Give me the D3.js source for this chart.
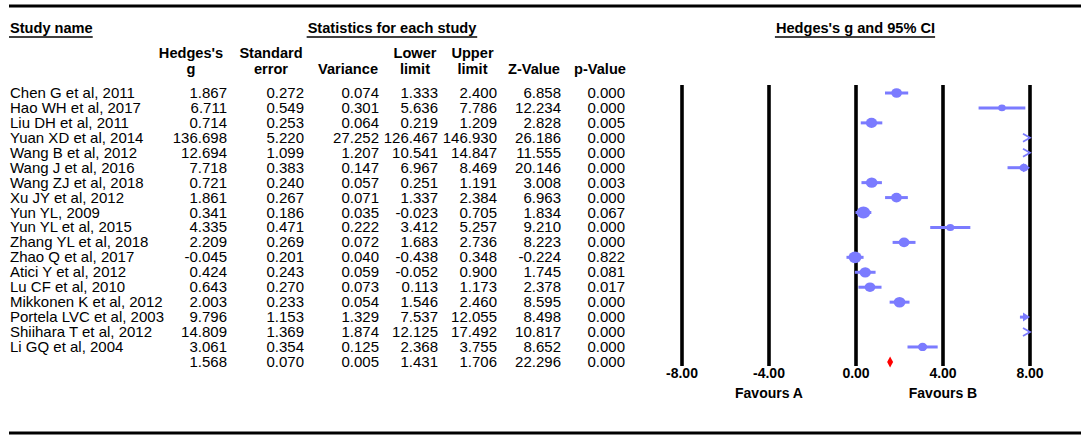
<!DOCTYPE html>
<html><head><meta charset="utf-8">
<script src="https://cdn.jsdelivr.net/npm/d3@7"></script>
<style>html,body{margin:0;padding:0;background:#fff;}svg{display:block;}</style>
</head><body>
<svg id="chart" width="1084" height="439"></svg>
<script>
const studies = ["Chen G et al, 2011","Hao WH et al, 2017","Liu DH et al, 2011","Yuan XD et al, 2014","Wang B et al, 2012","Wang J et al, 2016","Wang ZJ et al, 2018","Xu JY et al, 2012","Yun YL, 2009","Yun YL et al, 2015","Zhang YL et al, 2018","Zhao Q et al, 2017","Atici Y et al, 2012","Lu CF et al, 2010","Mikkonen K et al, 2012","Portela LVC et al, 2003","Shiihara T et al, 2012","Li GQ et al, 2004",""];
const hedgesG = [1.867,6.711,0.714,136.698,12.694,7.718,0.721,1.861,0.341,4.335,2.209,-0.045,0.424,0.643,2.003,9.796,14.809,3.061,1.568];
const stdErr  = [0.272,0.549,0.253,5.220,1.099,0.383,0.240,0.267,0.186,0.471,0.269,0.201,0.243,0.270,0.233,1.153,1.369,0.354,0.070];
const variance= [0.074,0.301,0.064,27.252,1.207,0.147,0.057,0.071,0.035,0.222,0.072,0.040,0.059,0.073,0.054,1.329,1.874,0.125,0.005];
const lower   = [1.333,5.636,0.219,126.467,10.541,6.967,0.251,1.337,-0.023,3.412,1.683,-0.438,-0.052,0.113,1.546,7.537,12.125,2.368,1.431];
const upper   = [2.400,7.786,1.209,146.930,14.847,8.469,1.191,2.384,0.705,5.257,2.736,0.348,0.900,1.173,2.460,12.055,17.492,3.755,1.706];
const zValue  = [6.858,12.234,2.828,26.186,11.555,20.146,3.008,6.963,1.834,9.210,8.223,-0.224,1.745,2.378,8.595,8.498,10.817,8.652,22.296];
const pValue  = [0.000,0.000,0.005,0.000,0.000,0.000,0.003,0.000,0.067,0.000,0.000,0.822,0.081,0.017,0.000,0.000,0.000,0.000,0.000];
const xTicks = [-8,-4,0,4,8];
const favourLabels = [{v:-4,t:"Favours A"},{v:4,t:"Favours B"}];

const svg = d3.select("#chart");
const FONT = "'Liberation Sans', Arial, sans-serif";
const BLUE = "#7b7bff";
const n = studies.length;
const y = d3.scalePoint().domain(d3.range(n)).range([93, 93 + 14.94*(n-1)]);
const x = d3.scaleLinear().domain([-8,8]).range([682,1030]);

// rules
svg.append("line").attr("x1",9).attr("x2",1081).attr("y1",6).attr("y2",6).attr("stroke","#000").attr("stroke-width",3);
svg.append("line").attr("x1",9).attr("x2",1081).attr("y1",433).attr("y2",433).attr("stroke","#000").attr("stroke-width",3);

// section headers
function header(txt, xx, anchor){
  const t = svg.append("text").attr("x",xx).attr("y",33).attr("text-anchor",anchor)
    .attr("font-family",FONT).attr("font-weight","bold").attr("font-size",14.6).text(txt);
  const b = t.node().getBBox();
  svg.append("line").attr("x1",b.x-1).attr("x2",b.x+b.width).attr("y1",37).attr("y2",37).attr("stroke","#000").attr("stroke-width",1.6);
}
header("Study name",10,"start");
header("Statistics for each study",392,"middle");
header("Hedges's g and 95% CI",855.5,"middle");

// column headers
const cols = [
  {c:191, r:227, l1:"Hedges's", l2:"g", data:hedgesG},
  {c:271, r:304, l1:"Standard", l2:"error", data:stdErr},
  {c:348, r:379, l1:"", l2:"Variance", data:variance},
  {c:415, r:438, l1:"Lower", l2:"limit", data:lower},
  {c:472.5, r:497, l1:"Upper", l2:"limit", data:upper},
  {c:534, r:561, l1:"", l2:"Z-Value", data:zValue},
  {c:600, r:625, l1:"", l2:"p-Value", data:pValue}
];
cols.forEach(col=>{
  [[col.l1,57.5],[col.l2,74]].forEach(([t,yy])=>{
    if(!t) return;
    svg.append("text").attr("x",col.c).attr("y",yy).attr("text-anchor","middle")
      .attr("font-family",FONT).attr("font-weight","bold").attr("font-size",14.6).text(t);
  });
  svg.append("g").selectAll("text").data(col.data).join("text")
    .attr("x",col.r).attr("y",(d,i)=>y(i)+5).attr("text-anchor","end")
    .attr("font-family",FONT).attr("font-size",15).text(d=>d3.format(".3f")(d).replace("−","-"));
});
svg.append("g").selectAll("text").data(studies).join("text")
  .attr("x",10).attr("y",(d,i)=>y(i)+5).attr("font-family",FONT).attr("font-size",15).text(d=>d);

// plot grid lines
svg.append("g").selectAll("line").data(xTicks).join("line")
  .attr("x1",d=>x(d)).attr("x2",d=>x(d)).attr("y1",85).attr("y2",366)
  .attr("stroke","#000").attr("stroke-width",3.6);
svg.append("g").selectAll("text").data(xTicks).join("text")
  .attr("x",d=>x(d)).attr("y",377.5).attr("text-anchor","middle")
  .attr("font-family",FONT).attr("font-weight","bold").attr("font-size",14).text(d=>d3.format(".2f")(d).replace("−","-"));
svg.append("g").selectAll("text").data(favourLabels).join("text")
  .attr("x",d=>x(d.v)).attr("y",398).attr("text-anchor","middle")
  .attr("font-family",FONT).attr("font-weight","bold").attr("font-size",14).text(d=>d.t);

// study marks
const weights = variance.slice(0,n-1).map(v=>1/v);
const rScale = d3.scaleSqrt().domain([0,d3.max(weights)]).range([1.9,6.1]);
const [xmin,xmax] = x.domain();
const g = svg.append("g");
for(let i=0;i<n-1;i++){
  const yy = y(i);
  const lo = lower[i], hi = upper[i], est = hedgesG[i];
  if(lo >= xmax){
    g.append("polyline").attr("points",[[x(xmax)-7,yy-4],[x(xmax),yy],[x(xmax)-7,yy+4]].map(p=>p.join(",")).join(" "))
      .attr("fill","none").attr("stroke",BLUE).attr("stroke-width",1.8);
    continue;
  }
  const x1 = x(Math.max(lo,xmin)), x2 = x(Math.min(hi,xmax));
  g.append("line").attr("x1",x1).attr("x2",hi>xmax? x2-4 : x2).attr("y1",yy).attr("y2",yy)
    .attr("stroke",BLUE).attr("stroke-width",3);
  if(hi > xmax){
    g.append("path").attr("d",`M${x(xmax)-7},${yy-4.5}L${x(xmax)},${yy}L${x(xmax)-7},${yy+4.5}Z`).attr("fill",BLUE);
  }
  if(est <= xmax){
    const r = rScale(1/variance[i]);
    g.append("ellipse").attr("cx",x(est)).attr("cy",yy).attr("rx",r*1.12).attr("ry",r).attr("fill",BLUE);
  }
}
// summary diamond
const si = n-1, sy = y(si);
svg.append("path").attr("d",`M${x(lower[si])},${sy}L${x(hedgesG[si])},${sy-5.5}L${x(upper[si])},${sy}L${x(hedgesG[si])},${sy+5.5}Z`)
  .attr("fill","#ff0000");
</script>
</body></html>
